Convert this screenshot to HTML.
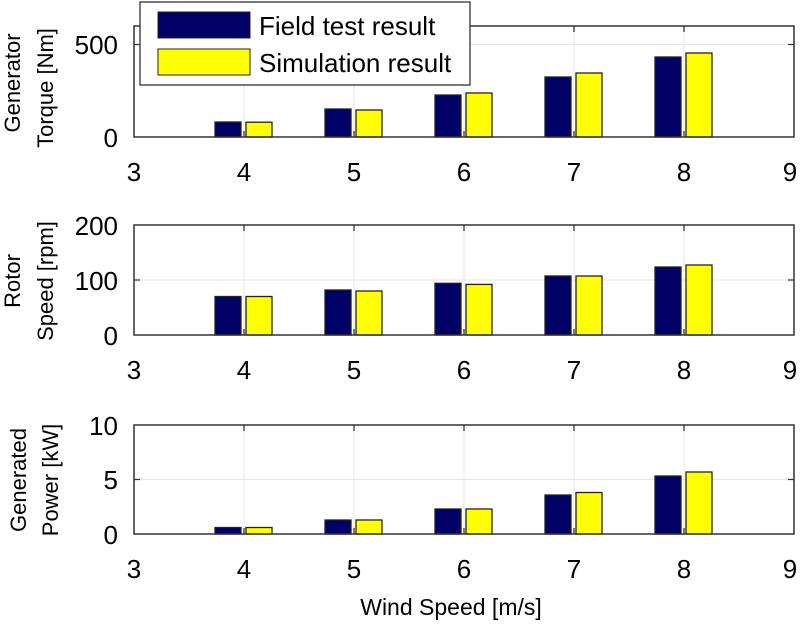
<!DOCTYPE html>
<html><head><style>body{margin:0;background:#fff}svg{display:block}</style></head>
<body>
<svg width="800" height="629" xmlns="http://www.w3.org/2000/svg" font-family="Liberation Sans, Arial, sans-serif">
<rect width="800" height="629" fill="#fff"/>
<g id="p1">
  <line x1="244" y1="26" x2="244" y2="137" stroke="#e4e4e4"/>
  <line x1="354" y1="26" x2="354" y2="137" stroke="#e4e4e4"/>
  <line x1="464" y1="26" x2="464" y2="137" stroke="#e4e4e4"/>
  <line x1="574" y1="26" x2="574" y2="137" stroke="#e4e4e4"/>
  <line x1="684" y1="26" x2="684" y2="137" stroke="#e4e4e4"/>
  <line x1="134" y1="44.5" x2="794" y2="44.5" stroke="#e4e4e4"/>
</g>
<g id="p2">
  <line x1="244" y1="225" x2="244" y2="335" stroke="#e4e4e4"/>
  <line x1="354" y1="225" x2="354" y2="335" stroke="#e4e4e4"/>
  <line x1="464" y1="225" x2="464" y2="335" stroke="#e4e4e4"/>
  <line x1="574" y1="225" x2="574" y2="335" stroke="#e4e4e4"/>
  <line x1="684" y1="225" x2="684" y2="335" stroke="#e4e4e4"/>
  <line x1="134" y1="280" x2="794" y2="280" stroke="#e4e4e4"/>
</g>
<g id="p3">
  <line x1="244" y1="425" x2="244" y2="534" stroke="#e4e4e4"/>
  <line x1="354" y1="425" x2="354" y2="534" stroke="#e4e4e4"/>
  <line x1="464" y1="425" x2="464" y2="534" stroke="#e4e4e4"/>
  <line x1="574" y1="425" x2="574" y2="534" stroke="#e4e4e4"/>
  <line x1="684" y1="425" x2="684" y2="534" stroke="#e4e4e4"/>
  <line x1="134" y1="479.5" x2="794" y2="479.5" stroke="#e4e4e4"/>
</g>
<g stroke="#222" stroke-width="1.3">
  <rect x="215" y="122" width="26" height="15" fill="#000066"/>
  <rect x="246" y="122.2" width="26" height="14.8" fill="#ffff00"/>
  <rect x="325" y="109" width="26" height="28" fill="#000066"/>
  <rect x="356" y="110" width="26" height="27" fill="#ffff00"/>
  <rect x="435" y="95" width="26" height="42" fill="#000066"/>
  <rect x="466" y="93" width="26" height="44" fill="#ffff00"/>
  <rect x="545" y="77" width="26" height="60" fill="#000066"/>
  <rect x="576" y="73" width="26" height="64" fill="#ffff00"/>
  <rect x="655" y="57" width="26" height="80" fill="#000066"/>
  <rect x="686" y="53" width="26" height="84" fill="#ffff00"/>
  <rect x="215" y="296.5" width="26" height="38.5" fill="#000066"/>
  <rect x="246" y="296.5" width="26" height="38.5" fill="#ffff00"/>
  <rect x="325" y="290" width="26" height="45" fill="#000066"/>
  <rect x="356" y="291" width="26" height="44" fill="#ffff00"/>
  <rect x="435" y="283.3" width="26" height="51.7" fill="#000066"/>
  <rect x="466" y="284.4" width="26" height="50.6" fill="#ffff00"/>
  <rect x="545" y="276" width="26" height="59" fill="#000066"/>
  <rect x="576" y="276" width="26" height="59" fill="#ffff00"/>
  <rect x="655" y="267" width="26" height="68" fill="#000066"/>
  <rect x="686" y="265" width="26" height="70" fill="#ffff00"/>
  <rect x="215" y="527.5" width="26" height="6.5" fill="#000066"/>
  <rect x="246" y="527.5" width="26" height="6.5" fill="#ffff00"/>
  <rect x="325" y="520" width="26" height="14" fill="#000066"/>
  <rect x="356" y="520" width="26" height="14" fill="#ffff00"/>
  <rect x="435" y="509" width="26" height="25" fill="#000066"/>
  <rect x="466" y="509" width="26" height="25" fill="#ffff00"/>
  <rect x="545" y="495" width="26" height="39" fill="#000066"/>
  <rect x="576" y="492.5" width="26" height="41.5" fill="#ffff00"/>
  <rect x="655" y="476" width="26" height="58" fill="#000066"/>
  <rect x="686" y="472" width="26" height="62" fill="#ffff00"/>
</g>
<g fill="none" stroke="#333" stroke-width="1.5">
  <rect x="134" y="26" width="660" height="111"/>
  <rect x="134" y="225" width="660" height="110"/>
  <rect x="134" y="425" width="660" height="109"/>
</g>
<g stroke="#333" stroke-width="1.3">
  <path d="M244 26v6M354 26v6M464 26v6M574 26v6M684 26v6M244 137v-6M354 137v-6M464 137v-6M574 137v-6M684 137v-6M134 44.5h6M794 44.5h-6"/>
  <path d="M244 225v6M354 225v6M464 225v6M574 225v6M684 225v6M244 335v-6M354 335v-6M464 335v-6M574 335v-6M684 335v-6M134 280h6M794 280h-6"/>
  <path d="M244 425v6M354 425v6M464 425v6M574 425v6M684 425v6M244 534v-6M354 534v-6M464 534v-6M574 534v-6M684 534v-6M134 479.5h6M794 479.5h-6"/>
</g>
<g font-size="26" fill="#000" text-anchor="end">
  <text x="118" y="54">500</text><text x="118" y="147">0</text>
  <text x="118" y="235">200</text><text x="118" y="290">100</text><text x="118" y="345">0</text>
  <text x="118" y="435">10</text><text x="118" y="489">5</text><text x="118" y="544">0</text>
</g>
<g font-size="26" fill="#000" text-anchor="middle">
  <text x="134" y="181">3</text><text x="244" y="181">4</text><text x="354" y="181">5</text><text x="464" y="181">6</text><text x="574" y="181">7</text><text x="684" y="181">8</text><text x="790" y="181">9</text>
  <text x="134" y="379">3</text><text x="244" y="379">4</text><text x="354" y="379">5</text><text x="464" y="379">6</text><text x="574" y="379">7</text><text x="684" y="379">8</text><text x="790" y="379">9</text>
  <text x="134" y="578">3</text><text x="244" y="578">4</text><text x="354" y="578">5</text><text x="464" y="578">6</text><text x="574" y="578">7</text><text x="684" y="578">8</text><text x="790" y="578">9</text>
</g>
<g font-size="22" fill="#000" text-anchor="middle">
  <text transform="translate(20,83) rotate(-90)">Generator</text>
  <text transform="translate(53,88) rotate(-90)">Torque [Nm]</text>
  <text transform="translate(20,281) rotate(-90)">Rotor</text>
  <text transform="translate(53,281) rotate(-90)">Speed [rpm]</text>
  <text transform="translate(26,480) rotate(-90)">Generated</text>
  <text transform="translate(58,480) rotate(-90)">Power [kW]</text>
</g>
<text x="451" y="615" font-size="23" text-anchor="middle" fill="#000">Wind Speed [m/s]</text>
<rect x="140" y="2" width="330" height="83" fill="#fff" stroke="#333" stroke-width="1.3"/>
<rect x="158" y="12" width="92" height="26" fill="#000066" stroke="#222"/>
<rect x="158" y="49" width="92" height="26" fill="#ffff00" stroke="#222"/>
<g font-size="26" fill="#000">
  <text x="259" y="35">Field test result</text>
  <text x="259" y="72">Simulation result</text>
</g>
</svg>
</body></html>
